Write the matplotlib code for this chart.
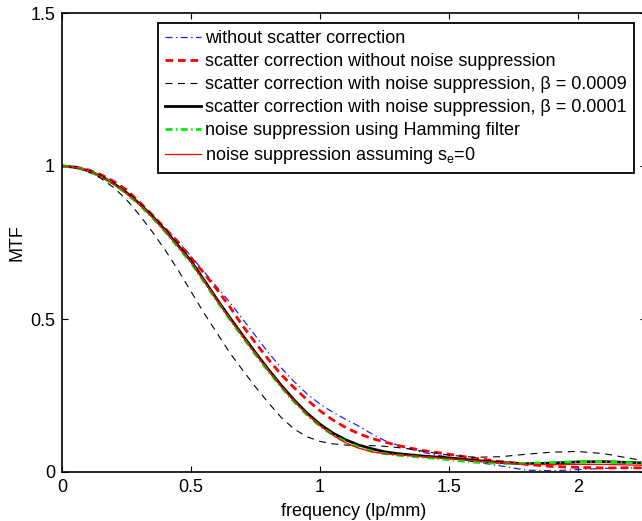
import matplotlib
matplotlib.use("Agg")
import matplotlib.pyplot as plt

plt.rcParams['font.family'] = ['Liberation Sans', 'DejaVu Sans']
plt.rcParams['mathtext.fontset'] = 'custom'
plt.rcParams['mathtext.rm'] = 'Liberation Sans'
plt.rcParams['mathtext.it'] = 'Liberation Sans'
plt.rcParams['lines.scale_dashes'] = False

freq = [0.0, 0.05, 0.1, 0.15, 0.2, 0.25, 0.3, 0.35, 0.4, 0.45, 0.5, 0.55, 0.6, 0.65,
        0.7, 0.75, 0.8, 0.85, 0.9, 0.95, 1.0, 1.05, 1.1, 1.15, 1.2, 1.25, 1.3, 1.35,
        1.4, 1.5, 1.6, 1.7, 1.8, 1.9, 2.0, 2.1, 2.2, 2.3]

mtf_no_scatter = [1.0, 0.997, 0.988, 0.970, 0.945, 0.915, 0.877, 0.835, 0.795, 0.755,
                  0.705, 0.655, 0.605, 0.555, 0.500, 0.445, 0.390, 0.340, 0.295, 0.255,
                  0.222, 0.195, 0.172, 0.150, 0.125, 0.103, 0.088, 0.075, 0.064, 0.048,
                  0.033, 0.020, 0.006, 0.004, 0.008, 0.012, 0.013, 0.013]

mtf_sc_no_ns = [1.0, 0.997, 0.988, 0.972, 0.950, 0.922, 0.882, 0.840, 0.796, 0.750,
                0.700, 0.650, 0.597, 0.540, 0.478, 0.422, 0.368, 0.318, 0.275, 0.236,
                0.200, 0.170, 0.145, 0.125, 0.110, 0.098, 0.087, 0.078, 0.070, 0.058,
                0.045, 0.034, 0.025, 0.018, 0.015, 0.013, 0.014, 0.013]

mtf_sc_b0009 = [1.0, 0.995, 0.982, 0.960, 0.930, 0.890, 0.840, 0.785, 0.725, 0.660,
                0.590, 0.520, 0.455, 0.390, 0.333, 0.278, 0.226, 0.178, 0.140, 0.115,
                0.100, 0.092, 0.088, 0.087, 0.086, 0.084, 0.080, 0.075, 0.068, 0.055,
                0.048, 0.050, 0.058, 0.065, 0.067, 0.060, 0.045, 0.030]

mtf_sc_b0001 = [1.0, 0.996, 0.985, 0.967, 0.943, 0.913, 0.877, 0.836, 0.790, 0.740,
                0.690, 0.628, 0.565, 0.505, 0.447, 0.390, 0.335, 0.283, 0.235, 0.192,
                0.156, 0.127, 0.105, 0.088, 0.076, 0.066, 0.060, 0.056, 0.052, 0.046,
                0.038, 0.031, 0.027, 0.029, 0.033, 0.034, 0.031, 0.028]

mtf_hamming = [1.0, 0.996, 0.985, 0.966, 0.941, 0.910, 0.873, 0.831, 0.785, 0.734,
               0.684, 0.622, 0.559, 0.499, 0.441, 0.384, 0.329, 0.277, 0.229, 0.186,
               0.150, 0.121, 0.098, 0.081, 0.068, 0.060, 0.055, 0.051, 0.048, 0.040,
               0.032, 0.028, 0.028, 0.031, 0.034, 0.034, 0.030, 0.026]

mtf_se0 = [1.0, 0.996, 0.985, 0.966, 0.942, 0.911, 0.875, 0.833, 0.787, 0.737,
           0.686, 0.624, 0.561, 0.501, 0.443, 0.386, 0.331, 0.279, 0.231, 0.188,
           0.151, 0.120, 0.095, 0.078, 0.066, 0.060, 0.056, 0.053, 0.050, 0.044,
           0.037, 0.030, 0.025, 0.024, 0.025, 0.025, 0.023, 0.021]

labels = ['without scatter correction',
          'scatter correction without noise suppression',
          'scatter correction with noise suppression, β = 0.0009',
          'scatter correction with noise suppression, β = 0.0001',
          'noise suppression using Hamming filter',
          'noise suppression assuming s$_\\mathrm{e}$=0']

xticks = [0, 0.5, 1, 1.5, 2]
xticklabels = ['0', '0.5', '1', '1.5', '2']
yticks = [0, 0.5, 1, 1.5]
yticklabels = ['0', '0.5', '1', '1.5']

W, H = 642, 521
fig = plt.figure(figsize=(W / 100, H / 100), dpi=100)
ax = fig.add_axes([62 / W, 49 / H, 584 / W, 459 / H])

ax.plot(freq, mtf_no_scatter, color='#2020ff', lw=0.9, dashes=(5, 2.5, 1, 2.5), label=labels[0])
ax.plot(freq, mtf_sc_no_ns, color='#ff0000', lw=2.0, dashes=(5.5, 3.5), label=labels[1])
ax.plot(freq, mtf_sc_b0009, color='black', lw=0.8, dashes=(5, 4), label=labels[2])
ax.plot(freq, mtf_sc_b0001, color='black', lw=2.0, label=labels[3])
ax.plot(freq, mtf_hamming, color='#00ee00', lw=2.0, dashes=(5, 2.5, 1, 2.5), label=labels[4])
ax.plot(freq, mtf_se0, color='#ff0000', lw=0.9, label=labels[5])

ax.set_xlim(0, (646 - 62) / 258.0)
ax.set_ylim(0, 1.5)
ax.set_xticks(xticks)
ax.set_xticklabels(xticklabels)
ax.set_yticks(yticks)
ax.set_yticklabels(yticklabels)
ax.tick_params(direction='in', top=True, right=True, length=4, width=0.8,
               labelsize=13, colors='black', pad=5)
for s in ax.spines.values():
    s.set_linewidth(1.2)

ax.set_xlabel('frequency (lp/mm)', fontsize=13, labelpad=5)
ax.set_ylabel('MTF', fontsize=13, labelpad=3)

leg = ax.legend(loc='upper right', bbox_to_anchor=(634 / W, 1 - 23 / H),
                bbox_transform=fig.transFigure, fontsize=13, frameon=True,
                fancybox=False, edgecolor='black', framealpha=1,
                handlelength=2.0, handletextpad=0.22, labelspacing=0.33,
                borderpad=0.4, borderaxespad=0)
leg.get_frame().set_linewidth(1.3)

fig.savefig('out.png', dpi=100)
